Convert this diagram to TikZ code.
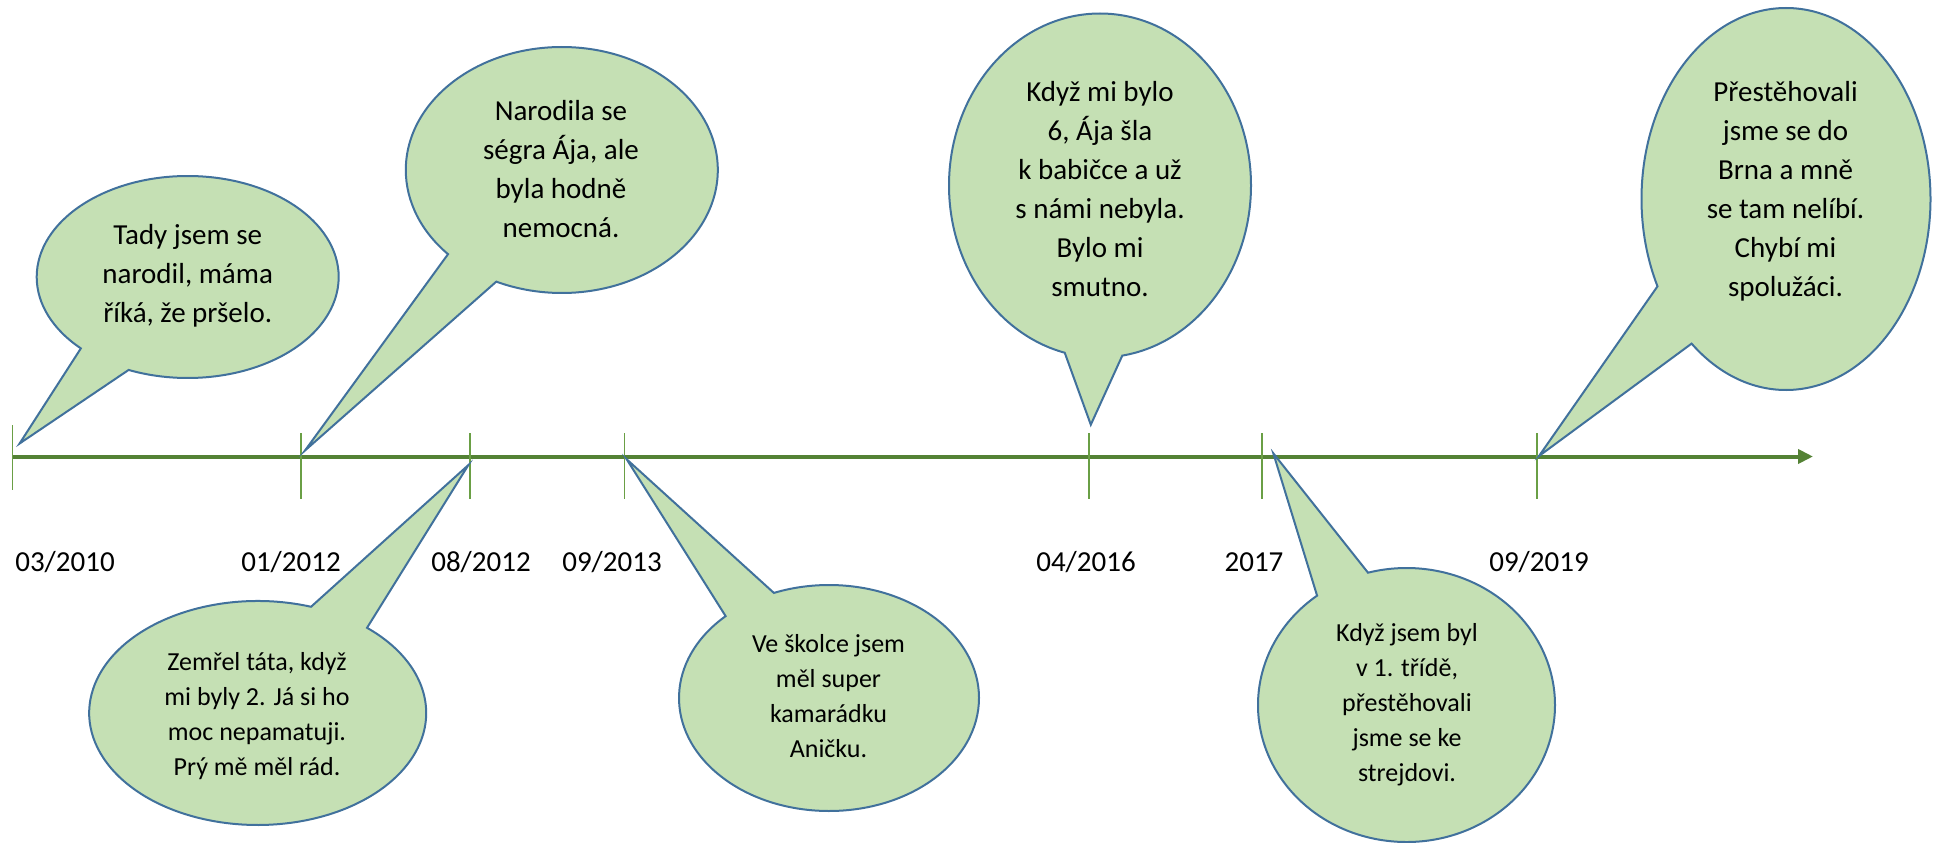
\documentclass[tikz,border=0pt]{standalone}
\usepackage{fontspec}
\setmainfont{Carlito}
\usetikzlibrary{shapes.callouts,arrows.meta}
\definecolor{bubfill}{HTML}{C5E0B4}
\definecolor{bubline}{HTML}{41719C}
\definecolor{axisgreen}{HTML}{548235}
\definecolor{tickgreen}{HTML}{6A9F45}
\begin{document}
\begin{tikzpicture}[x=1pt,y=-1pt,
  bubble/.style={ellipse callout, draw=bubline, fill=bubfill, line width=2pt,
    inner sep=0pt, callout pointer arc=22},
  bigtxt/.style={align=center, font=\fontsize{29}{39}\selectfont, inner sep=0pt},
  smalltxt/.style={align=center, font=\fontsize{26}{35}\selectfont, inner sep=0pt},
  datelab/.style={font=\fontsize{29}{35}\selectfont, inner sep=0pt, anchor=base},
  ticksty/.style={draw=tickgreen, line width=1.3pt},
  axissty/.style={draw=axisgreen, line width=4pt, -{Triangle[length=15pt,width=14pt]}}]
\useasboundingbox (0,0) rectangle (1935,843);

% axis points and ticks
\coordinate (a1) at (12.6,456.5);
\coordinate (a1top) at (12.6,425);
\coordinate (a1bot) at (12.6,490);
\foreach \n/\x in {2/301,3/470,4/624.7,5/1089,6/1262,7/1537}{
  \coordinate (a\n) at (\x,456.5);
  \coordinate (a\n top) at (\x,433);
  \coordinate (a\n bot) at (\x,499);
}
\coordinate (axend) at (1813,456.5);
\draw[axissty] (a1) -- (axend);
\draw[ticksty] (a1top) -- (a1bot);
\foreach \n in {2,...,7}{\draw[ticksty] (a\n top) -- (a\n bot);}

% date labels
\node[datelab] (d1) at (65,571.5) {03/2010};
\node[datelab] (d2) at (291,571.5) {01/2012};
\node[datelab] (d3) at (481,571.5) {08/2012};
\node[datelab] (d4) at (612,571.5) {09/2013};
\node[datelab] (d5) at (1086,571.5) {04/2016};
\node[datelab] (d6) at (1254,571.5) {2017};
\node[datelab] (d7) at (1539,571.5) {09/2019};

% pointer tips
\coordinate (p1) at (19.6,443.5);
\coordinate (p2) at (305,450.5);
\coordinate (p3) at (468.4,465);
\coordinate (p4) at (626.7,459.3);
\coordinate (p5) at (1090.8,424.7);
\coordinate (p6) at (1273.3,453.3);
\coordinate (p7) at (1539,456);

% callouts
\node[bubble, minimum width=302pt, minimum height=202pt, callout absolute pointer={(p1)}] (b1) at (187.7,277) {};
\node[bubble, minimum width=312pt, minimum height=246pt, callout absolute pointer={(p2)}] (b2) at (561.8,170) {};
\node[bubble, minimum width=337pt, minimum height=224pt, callout absolute pointer={(p3)}] (b3) at (257.7,713) {};
\node[bubble, minimum width=300pt, minimum height=226pt, callout absolute pointer={(p4)}] (b4) at (829,698) {};
\node[bubble, minimum width=302pt, minimum height=344pt, callout absolute pointer={(p5)}] (b5) at (1100,185.5) {};
\node[bubble, minimum width=297pt, minimum height=274pt, callout absolute pointer={(p6)}] (b6) at (1406.5,705) {};
\node[bubble, minimum width=289pt, minimum height=382pt, callout absolute pointer={(p7)}] (b7) at (1786,199) {};

% texts
\node[bigtxt] (t1) at (187.7,275.5) {Tady jsem se\\narodil, máma\\říká, že pršelo.};
\node[bigtxt] (t2) at (561,169) {Narodila se\\ségra Ája, ale\\byla hodně\\nemocná.};
\node[smalltxt] (t3) at (257,716.5) {Zemřel táta, když\\mi byly 2. Já si ho\\moc nepamatuji.\\Prý mě měl rád.};
\node[smalltxt] (t4) at (828.5,696) {Ve školce jsem\\měl super\\kamarádku\\Aničku.};
\node[bigtxt] (t5) at (1100,189) {Když mi bylo\\6, Ája šla\\k babičce a už\\s námi nebyla.\\Bylo mi\\smutno.};
\node[smalltxt] (t6) at (1407,705) {Když jsem byl\\v 1. třídě,\\přestěhovali\\jsme se ke\\strejdovi.};
\node[bigtxt] (t7) at (1785.5,191) {Přestěhovali\\jsme se do\\Brna a mně\\se tam nelíbí.\\Chybí mi\\spolužáci.};
\end{tikzpicture}
\end{document}
